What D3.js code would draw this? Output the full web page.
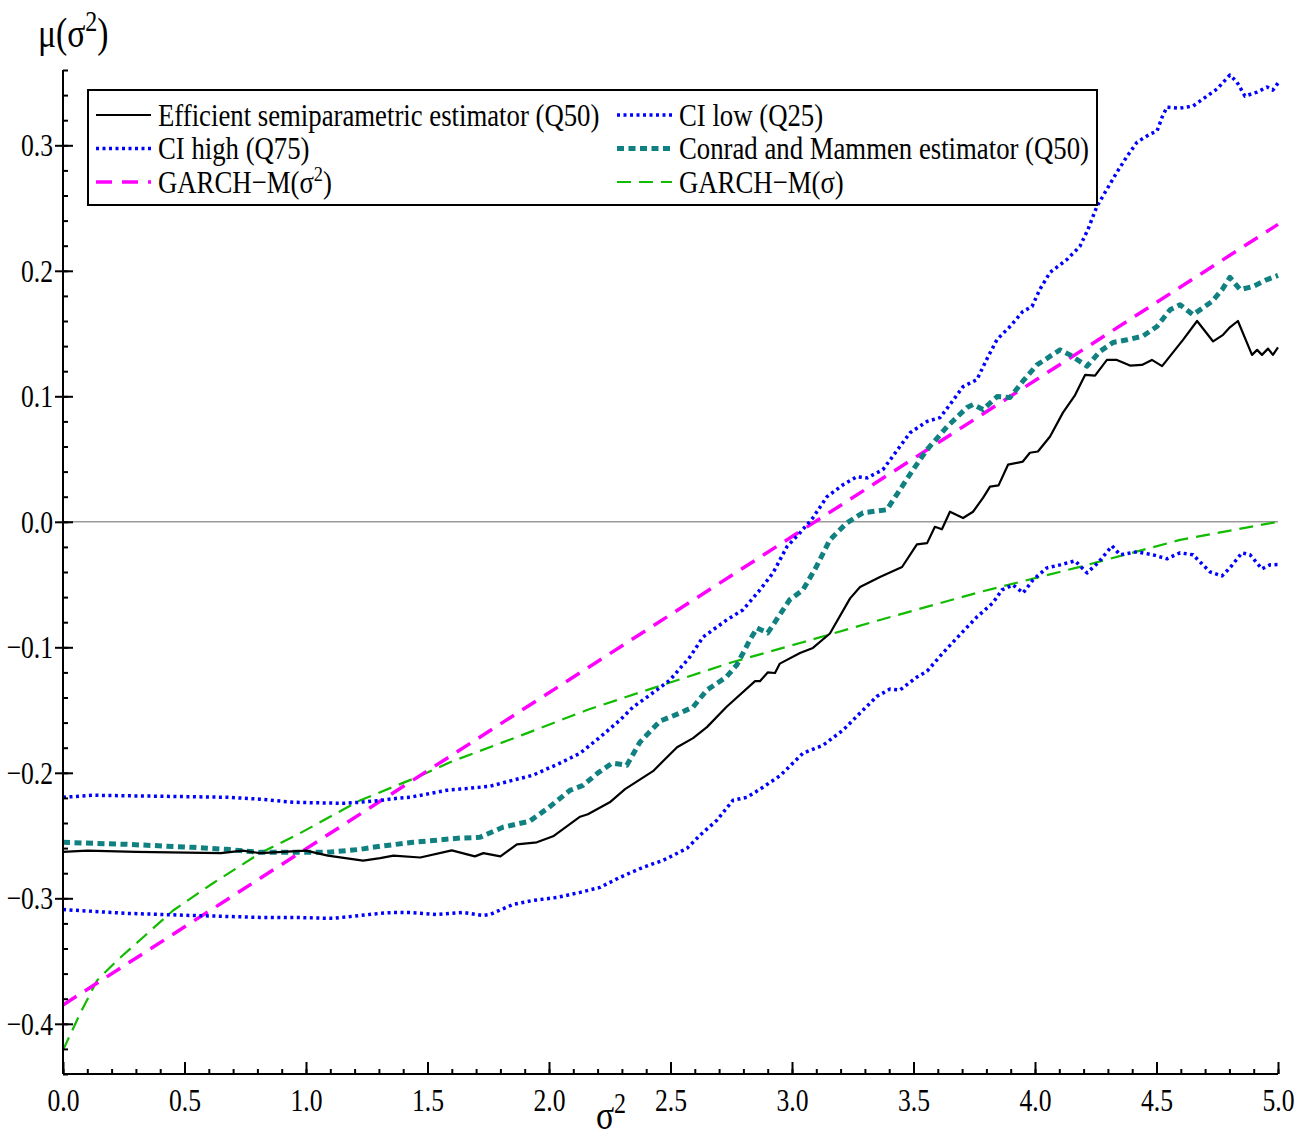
<!DOCTYPE html>
<html lang="en">
<head>
<meta charset="UTF-8" />
<title>mu(sigma^2)</title>
<script src="https://d3js.org/d3.v7.min.js"></script>
<style>
  body { margin: 0; background: #fff; }
  svg text { font-family: "Liberation Serif", "Times New Roman", serif; fill: #000; }
</style>
</head>
<body>
<div id="chart"></div>
<script>
// ---- data ----
const xTicks = [0, 0.5, 1, 1.5, 2, 2.5, 3, 3.5, 4, 4.5, 5];
const yTicks = [-0.4, -0.3, -0.2, -0.1, 0, 0.1, 0.2, 0.3];

const efficient = [
  [0, -0.263], [0.1, -0.262], [0.3, -0.263], [0.65, -0.264], [0.74, -0.262], [0.81, -0.264],
  [1.0, -0.262], [1.09, -0.266], [1.235, -0.270], [1.305, -0.268], [1.36, -0.266], [1.47, -0.2675],
  [1.6, -0.2618], [1.695, -0.2666], [1.73, -0.264], [1.8, -0.2666], [1.868, -0.257], [1.95, -0.2554],
  [2.017, -0.2506], [2.128, -0.235], [2.16, -0.233], [2.25, -0.2235], [2.313, -0.213], [2.428, -0.1987],
  [2.527, -0.1796], [2.593, -0.1724], [2.65, -0.1636], [2.73, -0.1476], [2.848, -0.127], [2.868, -0.127],
  [2.9, -0.12], [2.93, -0.1205], [2.95, -0.113], [3.033, -0.1045], [3.086, -0.1005], [3.156, -0.089],
  [3.239, -0.061], [3.28, -0.052], [3.362, -0.044], [3.453, -0.036], [3.514, -0.018], [3.556, -0.017],
  [3.588, -0.004], [3.617, -0.006], [3.65, 0.008], [3.704, 0.003], [3.745, 0.008], [3.786, 0.019],
  [3.815, 0.028], [3.85, 0.029], [3.889, 0.0455], [3.95, 0.048], [3.979, 0.055], [4.012, 0.056],
  [4.062, 0.068], [4.115, 0.087], [4.165, 0.101], [4.206, 0.117], [4.247, 0.1165], [4.296, 0.129],
  [4.337, 0.129], [4.391, 0.1245], [4.44, 0.125], [4.481, 0.129], [4.523, 0.124], [4.609, 0.145],
  [4.667, 0.160], [4.733, 0.1437], [4.774, 0.149], [4.802, 0.155], [4.835, 0.160], [4.893, 0.133],
  [4.914, 0.137], [4.934, 0.133], [4.959, 0.138], [4.979, 0.133], [5.0, 0.139]
];

const ciHigh = [
  [0, -0.2195], [0.123, -0.2179], [0.4, -0.2187], [0.675, -0.2195], [0.81, -0.221], [0.947, -0.2235],
  [1.152, -0.2243], [1.222, -0.2235], [1.305, -0.222], [1.374, -0.2203], [1.428, -0.2195], [1.58, -0.2139],
  [1.634, -0.213], [1.757, -0.2107], [1.852, -0.2059], [1.934, -0.2019], [2.045, -0.1923], [2.128, -0.1844],
  [2.21, -0.1716], [2.292, -0.158], [2.346, -0.1476], [2.444, -0.134], [2.498, -0.126], [2.58, -0.1077],
  [2.634, -0.0918], [2.733, -0.078], [2.798, -0.0702], [2.868, -0.0543], [2.922, -0.0407], [2.979, -0.0199],
  [3.033, -0.0088], [3.086, 0.0032], [3.144, 0.020], [3.21, 0.0295], [3.267, 0.0359], [3.309, 0.035],
  [3.374, 0.0415], [3.444, 0.060], [3.486, 0.071], [3.556, 0.080], [3.609, 0.083], [3.65, 0.0934],
  [3.704, 0.1077], [3.761, 0.1133], [3.807, 0.1317], [3.844, 0.1453], [3.897, 0.1556], [3.95, 0.1676],
  [3.988, 0.1716], [4.02, 0.1852], [4.062, 0.1987], [4.132, 0.2091], [4.185, 0.2195], [4.218, 0.233],
  [4.255, 0.2514], [4.296, 0.265], [4.337, 0.2785], [4.379, 0.2913], [4.42, 0.3025], [4.473, 0.3089],
  [4.502, 0.3113], [4.523, 0.3224], [4.543, 0.3304], [4.597, 0.3296], [4.65, 0.3312], [4.708, 0.3392],
  [4.749, 0.3448], [4.802, 0.356], [4.831, 0.3504], [4.864, 0.3392], [4.914, 0.3424], [4.955, 0.3464],
  [4.979, 0.344], [5.0, 0.3496]
];

const ciLow = [
  [0, -0.309], [0.263, -0.312], [0.535, -0.3137], [0.81, -0.3152], [0.947, -0.3152], [1.11, -0.316],
  [1.222, -0.3137], [1.305, -0.312], [1.358, -0.3113], [1.428, -0.3113], [1.54, -0.3129], [1.646, -0.3113],
  [1.728, -0.3137], [1.757, -0.3129], [1.852, -0.3049], [1.934, -0.3017], [2.033, -0.2993], [2.128, -0.2953],
  [2.21, -0.2913], [2.292, -0.2833], [2.387, -0.2753], [2.469, -0.2698], [2.568, -0.2602], [2.621, -0.2498],
  [2.691, -0.2378], [2.757, -0.2219], [2.815, -0.2195], [2.868, -0.2131], [2.951, -0.2023], [3.045, -0.1844],
  [3.128, -0.178], [3.21, -0.166], [3.28, -0.1524], [3.35, -0.139], [3.403, -0.1333], [3.444, -0.1341],
  [3.514, -0.1237], [3.556, -0.119], [3.621, -0.1045], [3.691, -0.09], [3.761, -0.0758], [3.827, -0.0646],
  [3.864, -0.0543], [3.909, -0.0503], [3.951, -0.0567], [3.992, -0.0463], [4.049, -0.0367], [4.103, -0.0343],
  [4.165, -0.0311], [4.214, -0.0407], [4.259, -0.0327], [4.317, -0.0192], [4.35, -0.0263], [4.42, -0.0239],
  [4.486, -0.0263], [4.543, -0.0295], [4.597, -0.0247], [4.65, -0.0263], [4.72, -0.0399], [4.77, -0.0431],
  [4.802, -0.0367], [4.852, -0.0247], [4.885, -0.0263], [4.934, -0.0375], [4.967, -0.0343], [5.0, -0.034]
];

const conrad = [
  [0, -0.2554], [0.263, -0.257], [0.535, -0.2594], [0.675, -0.261], [0.81, -0.2634], [1.086, -0.2634],
  [1.222, -0.261], [1.305, -0.2585], [1.44, -0.2554], [1.634, -0.252], [1.716, -0.2514], [1.81, -0.2434],
  [1.92, -0.2386], [2.0, -0.2275], [2.086, -0.214], [2.14, -0.210], [2.2, -0.2003], [2.26, -0.1923],
  [2.32, -0.194], [2.374, -0.1756], [2.457, -0.1588], [2.539, -0.1524], [2.593, -0.1476], [2.65, -0.134],
  [2.73, -0.1237], [2.773, -0.114], [2.827, -0.094], [2.856, -0.0846], [2.9, -0.0886], [2.963, -0.0702],
  [2.99, -0.0622], [3.045, -0.0543], [3.1, -0.0359], [3.156, -0.0144], [3.226, -0.0008], [3.292, 0.0072],
  [3.39, 0.0096], [3.444, 0.0255], [3.498, 0.0415], [3.556, 0.0575], [3.638, 0.0758], [3.72, 0.091],
  [3.745, 0.0934], [3.786, 0.0894], [3.844, 0.0998], [3.897, 0.099], [3.95, 0.112], [4.008, 0.125],
  [4.103, 0.137], [4.144, 0.133], [4.214, 0.124], [4.267, 0.1357], [4.321, 0.1429], [4.379, 0.145],
  [4.444, 0.148], [4.502, 0.1556], [4.556, 0.169], [4.597, 0.173], [4.65, 0.165], [4.728, 0.1755],
  [4.77, 0.185], [4.802, 0.1947], [4.844, 0.185], [4.897, 0.1875], [4.955, 0.193], [5.0, 0.1963]
];

const garchSq = [[0, -0.385], [5, 0.237]];

const garchSd = [
  [0, -0.421], [0.07, -0.392], [0.14, -0.3655], [0.222, -0.3496], [0.33, -0.331], [0.453, -0.3097],
  [0.617, -0.288], [0.81, -0.2642], [0.975, -0.2482], [1.222, -0.222], [1.457, -0.2035], [1.593, -0.1915],
  [1.91, -0.1684], [2.156, -0.150], [2.428, -0.1325], [2.757, -0.1117], [3.033, -0.0966], [3.362, -0.0782],
  [3.774, -0.0559], [4.185, -0.0359], [4.597, -0.0144], [5.0, 0.0]
];

// ---- layout ----
const W = 1311, H = 1139;
const x = d3.scaleLinear().domain([0, 5]).range([63, 1278]);
const y = d3.scaleLinear().domain([-0.44, 0.36]).range([1074, 70]);

const svg = d3.select("#chart").append("svg")
  .attr("width", W).attr("height", H);

// text in the picture is horizontally narrow, squeeze around its x
function squeeze(sel, sx = 0.8) {
  sel.attr("transform", function () {
    const tx = +this.getAttribute("x") || 0;
    return `translate(${tx},0) scale(${sx},1) translate(${-tx},0)`;
  });
}

const styles = {
  efficient: { color: "#000000", width: 2.2, dash: null },
  ciHigh: { color: "#0000ff", width: 3.5, dash: "3,3.5" },
  ciLow: { color: "#0000ff", width: 3.5, dash: "3,3.5" },
  conrad: { color: "#108080", width: 5, dash: "7,4.5" },
  garchSq: { color: "#ff00ff", width: 3.5, dash: "16,10" },
  garchSd: { color: "#11bb00", width: 2.2, dash: "14,8" }
};

// zero line
svg.append("line")
  .attr("x1", x(0)).attr("x2", x(5))
  .attr("y1", y(0)).attr("y2", y(0))
  .attr("stroke", "#999").attr("stroke-width", 1.5);

const line = d3.line().x(d => x(d[0])).y(d => y(d[1]));
const series = [
  ["garchSd", garchSd], ["garchSq", garchSq], ["ciLow", ciLow],
  ["ciHigh", ciHigh], ["conrad", conrad], ["efficient", efficient]
];
series.forEach(([key, data]) => {
  const s = styles[key];
  svg.append("path")
    .datum(data)
    .attr("d", line)
    .attr("fill", "none")
    .attr("stroke", s.color)
    .attr("stroke-width", s.width)
    .attr("stroke-dasharray", s.dash)
    .attr("stroke-linejoin", "round");
});

// ---- axes ----
const fontSize = 32;
const yAxis = svg.append("g").attr("transform", `translate(${x(0)},0)`);
yAxis.call(d3.axisLeft(y).tickValues(yTicks).tickSize(8).tickPadding(2).tickFormat(d3.format(".1f")));
yAxis.select(".domain").remove();
yAxis.selectAll("line").attr("stroke-width", 2);
yAxis.selectAll("text")
  .attr("font-size", fontSize).attr("font-family", "Liberation Serif")
  .text(d => d3.format(".1f")(d).replace("-", "\u2212"))
  .call(squeeze);

svg.append("g").attr("transform", `translate(${x(0)},0)`)
  .call(d3.axisLeft(y).tickValues(yTicks).tickSize(-10).tickFormat(""))
  .call(g => g.select(".domain").remove())
  .selectAll("line").attr("stroke-width", 2);

svg.append("g").attr("transform", `translate(${x(0)},0)`)
  .call(d3.axisLeft(y).tickValues(d3.range(-44, 37, 2).map(v => v / 100)).tickSize(-5).tickFormat(""))
  .call(g => g.select(".domain").attr("stroke-width", 2).attr("d", `M0,${y(-0.44)}V${y(0.36)}`))
  .selectAll("line").attr("stroke-width", 2);

const xAxis = svg.append("g").attr("transform", `translate(0,${y(-0.44)})`);
xAxis.call(d3.axisBottom(x).tickValues(xTicks).tickSize(-12).tickPadding(14).tickFormat(d3.format(".1f")));
xAxis.select(".domain").attr("stroke-width", 2).attr("d", `M${x(0)},0H${x(5)}`);
xAxis.selectAll("line").attr("stroke-width", 2);
xAxis.selectAll("text").attr("font-size", fontSize).attr("font-family", "Liberation Serif").call(squeeze);

svg.append("g").attr("transform", `translate(0,${y(-0.44)})`)
  .call(d3.axisBottom(x).tickValues(d3.range(0, 51).map(v => v / 10)).tickSize(-5).tickFormat(""))
  .call(g => g.select(".domain").remove())
  .selectAll("line").attr("stroke-width", 2);

// axis titles
const yTitle = svg.append("text").attr("x", 38).attr("y", 47).attr("font-size", 42);
yTitle.append("tspan").text("\u03bc(\u03c3");
yTitle.append("tspan").attr("font-size", 30).attr("dy", -16).text("2");
yTitle.append("tspan").attr("dy", 16).text(")");
yTitle.call(squeeze);

const xTitle = svg.append("text").attr("x", 596).attr("y", 1129).attr("font-size", 42);
xTitle.append("tspan").text("\u03c3");
xTitle.append("tspan").attr("font-size", 30).attr("dy", -16).text("2");
xTitle.call(squeeze);

// ---- legend ----
const legendItems = [
  { key: "efficient", label: ["Efficient semiparametric estimator (Q50)"], col: 0, row: 0 },
  { key: "ciLow", label: ["CI low (Q25)"], col: 1, row: 0 },
  { key: "ciHigh", label: ["CI high (Q75)"], col: 0, row: 1 },
  { key: "conrad", label: ["Conrad and Mammen estimator (Q50)"], col: 1, row: 1 },
  { key: "garchSq", label: ["GARCH\u2212M(\u03c3", "2", ")"], col: 0, row: 2 },
  { key: "garchSd", label: ["GARCH\u2212M(\u03c3)"], col: 1, row: 2 }
];
const legend = svg.append("g");
legend.append("rect")
  .attr("x", 88).attr("y", 90).attr("width", 1009).attr("height", 115)
  .attr("fill", "#fff").attr("stroke", "#000").attr("stroke-width", 2);

const colX = [96, 617];
legendItems.forEach(item => {
  const s = styles[item.key];
  const ly = 115 + item.row * 33.5;
  const lx = colX[item.col];
  legend.append("line")
    .attr("x1", lx).attr("x2", lx + 55).attr("y1", ly).attr("y2", ly)
    .attr("stroke", s.color).attr("stroke-width", s.width)
    .attr("stroke-dasharray", s.dash);
  const t = legend.append("text").attr("x", lx + 62).attr("y", ly + 11).attr("font-size", fontSize);
  t.append("tspan").text(item.label[0]);
  if (item.label.length > 1) {
    t.append("tspan").attr("font-size", 22).attr("dy", -12).text(item.label[1]);
    t.append("tspan").attr("dy", 12).text(item.label[2]);
  }
  t.call(squeeze, 0.836);
});
</script>
</body>
</html>
